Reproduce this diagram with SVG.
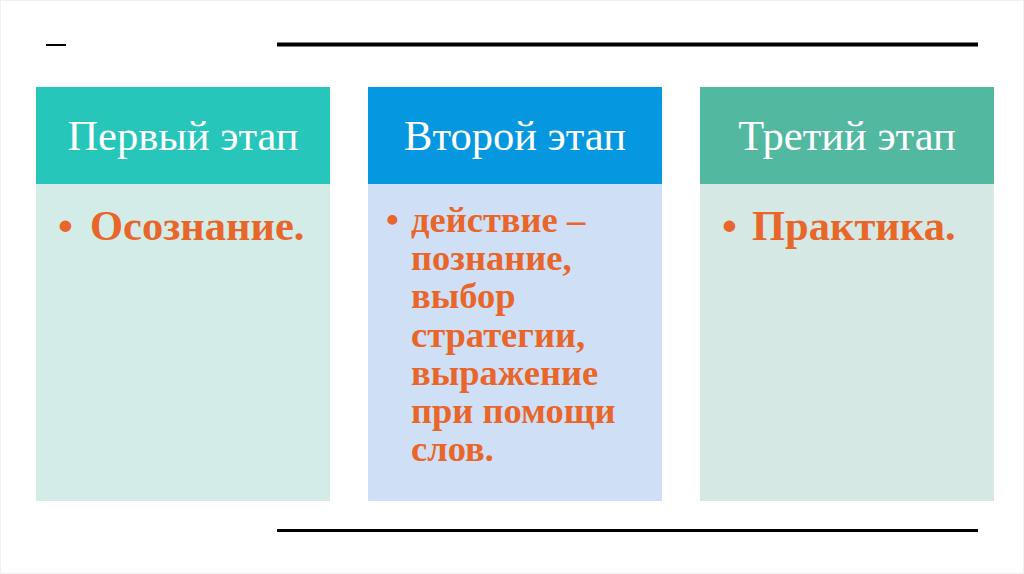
<svg xmlns="http://www.w3.org/2000/svg" width="1024" height="574" viewBox="0 0 1024 574">
<style>
.hd{font-family:"Liberation Serif","Times New Roman",serif;font-size:42.5px;fill:#ffffff;text-anchor:middle}
.bd{font-family:"Liberation Serif","Times New Roman",serif;font-weight:bold;fill:#E8662A}
.big{font-size:42.5px}
.sm{font-size:36.5px}
</style>
<rect x="0.5" y="0.5" width="1023" height="573" fill="#ffffff" stroke="#f0f0f0"/>
<g id="decor">
<line x1="46" y1="45" x2="66" y2="45" stroke="#000" stroke-width="2"/>
<line x1="277" y1="44.5" x2="978" y2="44.5" stroke="#000" stroke-width="4"/>
<line x1="277" y1="530.5" x2="978" y2="530.5" stroke="#000" stroke-width="3"/>
</g>
<g id="stage1">
<rect x="36" y="184" width="294" height="317" fill="#D3ECE8"/>
<rect x="36" y="87" width="294" height="97" fill="#26C6BA"/>
<text class="hd" x="183" y="150">Первый этап</text>
<text class="bd big" x="58" y="240">•</text>
<text class="bd big" x="90" y="240">Осознание.</text>
</g>
<g id="stage2">
<rect x="368" y="184" width="294" height="317" fill="#CFDFF5"/>
<rect x="368" y="87" width="294" height="97" fill="#0598E1"/>
<text class="hd" x="515" y="150">Второй этап</text>
<text class="bd sm" x="386" y="232">•</text>
<text class="bd sm" x="411" y="232">действие –</text>
<text class="bd sm" x="411" y="270">познание,</text>
<text class="bd sm" x="411" y="308">выбор</text>
<text class="bd sm" x="411" y="347">стратегии,</text>
<text class="bd sm" x="411" y="385">выражение</text>
<text class="bd sm" x="411" y="423">при помощи</text>
<text class="bd sm" x="411" y="461">слов.</text>
</g>
<g id="stage3">
<rect x="700" y="184" width="294" height="317" fill="#D5E8E3"/>
<rect x="700" y="87" width="294" height="97" fill="#52B8A0"/>
<text class="hd" x="847" y="150">Третий этап</text>
<text class="bd big" x="722" y="240">•</text>
<text class="bd big" x="752" y="240">Практика.</text>
</g>
<g id="connectors"></g>
</svg>
